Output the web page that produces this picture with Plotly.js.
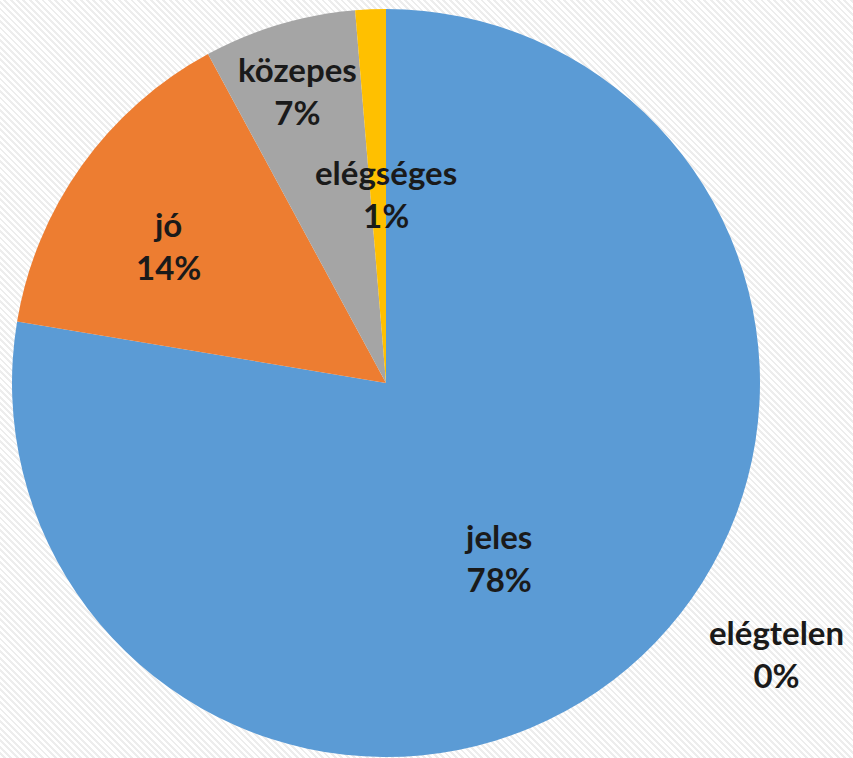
<!DOCTYPE html>
<html>
<head>
<meta charset="utf-8">
<script src="https://cdn.plot.ly/plotly-3.0.1.min.js"></script>
<style>
  html, body { margin: 0; padding: 0; }
  body {
    width: 853px; height: 758px; overflow: hidden;
    background: repeating-linear-gradient(45deg, #ffffff 0px, #ffffff 2.5px, #ededed 2.5px, #ededed 4.5px);
  }
  #chart { width: 853px; height: 758px; }
</style>
</head>
<body>
<div id="chart"></div>
<script>
// Data
const grades = ['jeles', 'jó', 'közepes', 'elégséges', 'elégtelen'];
const counts = [59, 11, 5, 1, 0];
const colors = ['#5B9BD5', '#ED7D31', '#A5A5A5', '#FFC000', '#4472C4'];

// Label positions (pixels of the 853x758 canvas)
const labelPx = [[498, 557], [168, 245], [297, 90], [386, 193], [776, 653]];

const W = 853, H = 758;
const total = counts.reduce((a, b) => a + b, 0);

const trace = {
  type: 'pie',
  labels: grades,
  values: counts,
  sort: false,
  direction: 'clockwise',
  rotation: 0,
  textinfo: 'none',
  hoverinfo: 'label+percent',
  marker: { colors: colors, line: { width: 0 } },
  domain: { x: [12 / W, 760 / W], y: [1 - 757 / H, 1 - 9 / H] },
  showlegend: false
};

const annotations = grades.map((g, i) => ({
  xref: 'paper', yref: 'paper',
  x: labelPx[i][0] / W, y: 1 - labelPx[i][1] / H,
  xanchor: 'center', yanchor: 'middle',
  text: '<b>' + g + '<br>' + Math.round(counts[i] / total * 100) + '%</b>',
  showarrow: false,
  align: 'center',
  font: { family: 'Lato, "Open Sans", sans-serif', size: 33, color: '#1a1a1a' }
}));

const layout = {
  width: W, height: H,
  margin: { l: 0, r: 0, t: 0, b: 0 },
  paper_bgcolor: 'rgba(0,0,0,0)',
  plot_bgcolor: 'rgba(0,0,0,0)',
  annotations: annotations
};

Plotly.newPlot('chart', [trace], layout, { displayModeBar: false, staticPlot: true });
</script>
</body>
</html>
